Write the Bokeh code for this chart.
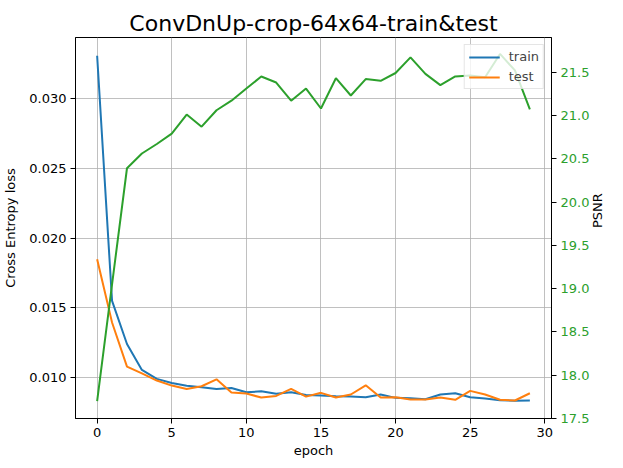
import math
from bokeh.plotting import figure
from bokeh.models import Range1d, LinearAxis, FixedTicker, PrintfTickFormatter, Legend, LegendItem
from bokeh.embed import file_html
from bokeh.resources import INLINE

epochs = list(range(30))
train_loss = [0.03307, 0.01550, 0.01241, 0.01055, 0.00991, 0.00962, 0.00941, 0.00931,
              0.00919, 0.00926, 0.00895, 0.00902, 0.00884, 0.00895, 0.00876, 0.00871,
              0.00866, 0.00864, 0.00859, 0.00879, 0.00855, 0.00852, 0.00845, 0.00879,
              0.00888, 0.00859, 0.00850, 0.00838, 0.00834, 0.00836]
test_loss = [0.01848, 0.01395, 0.01079, 0.01031, 0.00979, 0.00943, 0.00919, 0.00938,
             0.00988, 0.00893, 0.00886, 0.00857, 0.00869, 0.00919, 0.00864, 0.00891,
             0.00857, 0.00879, 0.00945, 0.00857, 0.00859, 0.00843, 0.00843, 0.00857,
             0.00841, 0.00905, 0.00879, 0.00841, 0.00836, 0.00888]
psnr = [17.70, 19.05, 20.39, 20.56, 20.67, 20.79, 21.01, 20.87, 21.06, 21.17,
        21.31, 21.45, 21.38, 21.17, 21.31, 21.08, 21.43, 21.23, 21.42, 21.40,
        21.49, 21.67, 21.48, 21.35, 21.45, 21.46, 21.44, 21.71, 21.52, 21.07]
x_ticks = [0, 5, 10, 15, 20, 25, 30]
loss_ticks = [0.010, 0.015, 0.020, 0.025, 0.030]
psnr_ticks = [17.5, 18.0, 18.5, 19.0, 19.5, 20.0, 20.5, 21.0, 21.5]

FONT = "DejaVu Sans"
BLUE, ORANGE, GREEN = "#1f77b4", "#ff7f0e", "#2ca02c"

p = figure(width=615, height=460, output_backend="svg", toolbar_location=None,
           x_range=Range1d(-1.45, 30.45), y_range=Range1d(0.00707, 0.03438),
           min_border_left=75, min_border_right=59, min_border_top=37, min_border_bottom=42)
p.extra_y_ranges = {"psnr": Range1d(17.50, 21.90)}

p.title.text = "ConvDnUp-crop-64x64-train&test"
p.title.align = "center"
p.title.text_font = FONT
p.title.text_font_size = "22px"
p.title.text_font_style = "normal"
p.title.text_color = "black"
p.title.standoff = 4

p.outline_line_color = "black"
p.outline_line_width = 1
p.background_fill_color = "white"
p.border_fill_color = "white"

def style_axis(ax):
    ax.major_label_text_font = FONT
    ax.major_label_text_font_size = "13px"
    ax.major_label_text_color = "black"
    ax.axis_label_text_font = FONT
    ax.axis_label_text_font_size = "13px"
    ax.axis_label_text_font_style = "normal"
    ax.axis_label_text_color = "black"
    ax.major_tick_in = 0
    ax.major_tick_out = 5
    ax.minor_tick_in = 0
    ax.minor_tick_out = 0
    ax.major_label_standoff = 4
    ax.axis_label_standoff = 8
    ax.axis_line_color = "black"
    ax.major_tick_line_color = "black"

xa = p.xaxis[0]
style_axis(xa)
xa.ticker = FixedTicker(ticks=x_ticks)
xa.axis_label = "epoch"
xa.axis_label_standoff = 3

ya = p.yaxis[0]
style_axis(ya)
ya.ticker = FixedTicker(ticks=loss_ticks)
ya.formatter = PrintfTickFormatter(format="%.3f")
ya.axis_label = "Cross Entropy loss"

ra = LinearAxis(y_range_name="psnr")
style_axis(ra)
ra.ticker = FixedTicker(ticks=psnr_ticks)
ra.formatter = PrintfTickFormatter(format="%.1f")
ra.major_label_text_color = GREEN
ra.axis_label = "PSNR"
ra.axis_label_orientation = math.pi / 2
ra.axis_label_standoff = 5
p.add_layout(ra, "right")

p.xgrid.ticker = FixedTicker(ticks=x_ticks)
p.ygrid.ticker = FixedTicker(ticks=loss_ticks)
for g in (p.xgrid[0], p.ygrid[0]):
    g.grid_line_color = "#b0b0b0"
    g.grid_line_width = 0.8

r_train = p.line(epochs, train_loss, line_color=BLUE, line_width=2)
r_test = p.line(epochs, test_loss, line_color=ORANGE, line_width=2)
r_psnr = p.line(epochs, psnr, line_color=GREEN, line_width=2, y_range_name="psnr")

legend = Legend(items=[LegendItem(label="train", renderers=[r_train]),
                       LegendItem(label="test", renderers=[r_test])],
                location="top_right")
legend.margin = 7
legend.padding = 4
legend.spacing = 5
legend.glyph_width = 31
legend.glyph_height = 12
legend.label_height = 12
legend.label_standoff = 9
legend.label_text_font = FONT
legend.label_text_font_size = "13px"
legend.border_line_color = "#cccccc"
legend.border_line_width = 1
legend.background_fill_color = "white"
legend.background_fill_alpha = 0.8
p.add_layout(legend)

open("out.html", "w").write(file_html(p, INLINE))
